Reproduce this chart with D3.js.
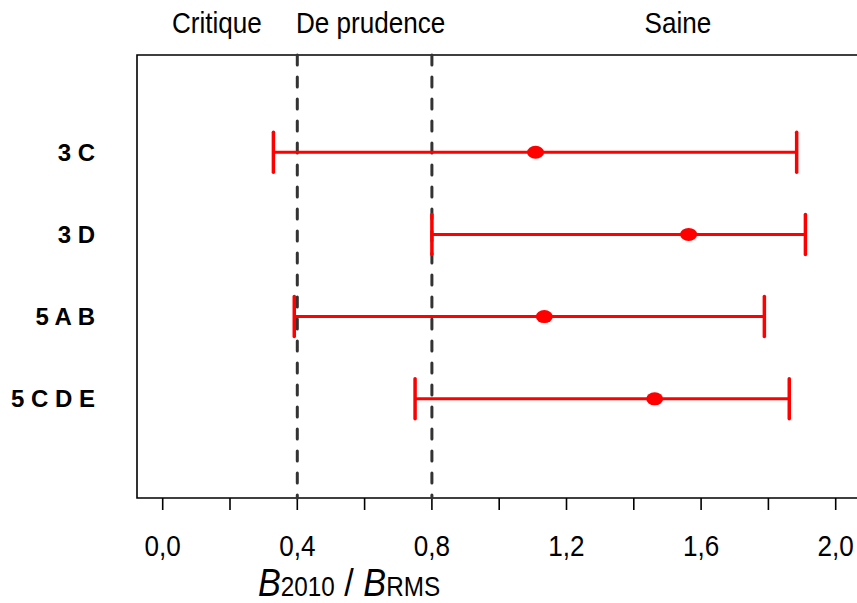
<!DOCTYPE html>
<html>
<head>
<meta charset="utf-8">
<script src="https://cdn.jsdelivr.net/npm/d3@7"></script>
<style>
  body { margin: 0; background: #fff; }
  svg text { font-family: "Liberation Sans", Arial, sans-serif; }
</style>
</head>
<body>
<div id="chart"></div>
<script>
// stock areas and B2010/BRMS estimates (low, point, high)
const areas = ["3 C", "3 D", "5 A B", "5 C D E"];
const lowVals = [0.329, 0.80, 0.391, 0.750];
const pointVals = [1.108, 1.563, 1.134, 1.462];
const highVals = [1.884, 1.910, 1.788, 1.862];

const xTicks = [0, 0.2, 0.4, 0.6, 0.8, 1.0, 1.2, 1.4, 1.6, 1.8, 2.0];
const xLabelTicks = [0, 0.4, 0.8, 1.2, 1.6, 2.0];
const refLines = [0.4, 0.8];
const zones = ["Critique", "De prudence", "Saine"];
const zoneCenters = [0.161, 0.618, 1.531];

let width = 857, height = 603;
let plotLeft = 137, plotTop = 55, plotBottom = 498;
let squeeze = 0.9;   // text in the original is a bit narrow

const svg = d3.select("#chart").append("svg")
  .attr("width", width)
  .attr("height", height);

const x = d3.scaleLinear().domain([0, 2]).range([162.7, 835.7]);
const y = d3.scaleLinear().domain([-1.183, 4.207]).range([plotTop, plotBottom]);

const fmt = d => d3.format(".1f")(d).replace(".", ",");
const place = (px, py) => `translate(${px},${py}) scale(${squeeze},1)`;

// box (right side runs off the page)
svg.append("path")
  .attr("d", `M${width + 5},${plotTop}H${plotLeft}V${plotBottom}H${width + 5}`)
  .attr("fill", "none")
  .attr("stroke", "#000")
  .attr("stroke-width", 1.6);

// ticks
svg.append("g").selectAll("line")
  .data(xTicks)
  .join("line")
  .attr("x1", d => x(d)).attr("x2", d => x(d))
  .attr("y1", plotBottom).attr("y2", plotBottom + 12)
  .attr("stroke", "#000")
  .attr("stroke-width", 1.6);

svg.append("g").selectAll("text")
  .data(xLabelTicks)
  .join("text")
  .attr("transform", d => place(x(d), 556))
  .attr("text-anchor", "middle")
  .attr("font-size", 29)
  .text(fmt);

// axis title B2010 / BRMS
const title = svg.append("text")
  .attr("transform", place(258, 596))
  .attr("font-size", 38);
title.append("tspan").attr("font-style", "italic").text("B");
title.append("tspan").attr("font-size", 27).text("2010");
title.append("tspan").text(" / ");
title.append("tspan").attr("font-style", "italic").text("B");
title.append("tspan").attr("font-size", 27).text("RMS");

// zone labels
svg.append("g").selectAll("text")
  .data(zones)
  .join("text")
  .attr("transform", (d, i) => place(x(zoneCenters[i]), 33))
  .attr("text-anchor", "middle")
  .attr("font-size", 29)
  .text(d => d);

// dashed reference lines
svg.append("g").selectAll("line")
  .data(refLines)
  .join("line")
  .attr("x1", d => x(d)).attr("x2", d => x(d))
  .attr("y1", plotTop).attr("y2", plotBottom)
  .attr("stroke", "#333")
  .attr("stroke-width", 3)
  .attr("stroke-linecap", "round")
  .attr("stroke-dasharray", "10,12");

// area labels
svg.append("g").selectAll("text")
  .data(areas)
  .join("text")
  .attr("x", 95)
  .attr("y", (d, i) => y(i) + 8.5)
  .attr("text-anchor", "end")
  .attr("font-size", 24)
  .attr("font-weight", "bold")
  .text(d => d);

// error bars
const bars = svg.append("g");
areas.forEach((a, i) => {
  const cy = y(i);
  bars.append("line")
    .attr("x1", x(lowVals[i])).attr("x2", x(highVals[i]))
    .attr("y1", cy).attr("y2", cy)
    .attr("stroke", "#ff0000").attr("stroke-width", 3);
  [lowVals[i], highVals[i]].forEach(v => {
    bars.append("line")
      .attr("x1", x(v)).attr("x2", x(v))
      .attr("y1", cy - 20).attr("y2", cy + 20)
      .attr("stroke", "#ff0000").attr("stroke-width", 3.5)
      .attr("stroke-linecap", "round");
  });
  bars.append("ellipse")
    .attr("cx", x(pointVals[i])).attr("cy", cy)
    .attr("rx", 8.5).attr("ry", 6.5)
    .attr("fill", "#ff0000");
});
</script>
</body>
</html>
